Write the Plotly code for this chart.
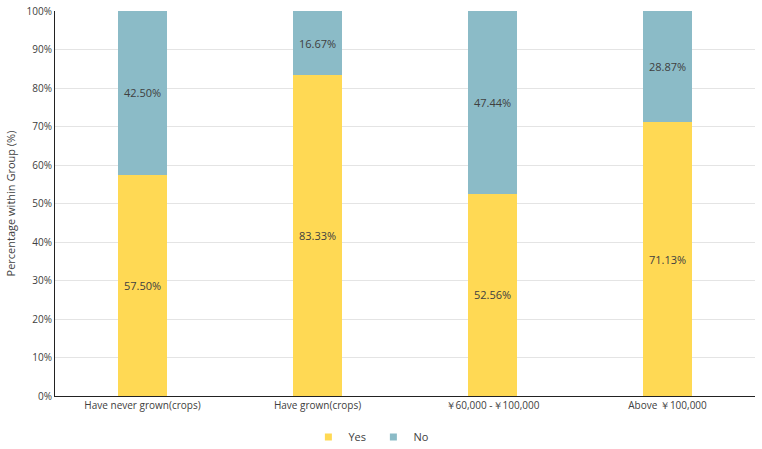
import plotly.graph_objects as go

categories = ["Have never grown(crops)", "Have grown(crops)", "￥60,000 -￥100,000", "Above ￥100,000"]
yes_vals = [57.50, 83.33, 52.56, 71.13]
no_vals = [42.50, 16.67, 47.44, 28.87]
yes_labels = ["57.50%", "83.33%", "52.56%", "71.13%"]
no_labels = ["42.50%", "16.67%", "47.44%", "28.87%"]
y_ticks = [0, 10, 20, 30, 40, 50, 60, 70, 80, 90, 100]
y_tick_text = ["0%", "10%", "20%", "30%", "40%", "50%", "60%", "70%", "80%", "90%", "100%"]

font_family = "Open Sans, Noto Sans, sans-serif"
text_col = "#404040"
yes_col = "#FFD954"
no_col = "#8BBBC7"

fig = go.Figure()
fig.add_trace(go.Bar(
    x=categories, y=yes_vals, name="Yes", marker_color=yes_col,
    text=yes_labels, textposition="inside", insidetextanchor="middle",
    textfont=dict(size=11, color=text_col), width=0.285,
    marker_line_width=0, hoverinfo="skip", showlegend=False))
fig.add_trace(go.Bar(
    x=categories, y=no_vals, name="No", marker_color=no_col,
    text=no_labels, textposition="inside", insidetextanchor="middle",
    textfont=dict(size=11, color=text_col), width=0.285,
    marker_line_width=0, hoverinfo="skip", showlegend=False))
# legend entries (square markers)
for nm, col in [("Yes", yes_col), ("No", no_col)]:
    fig.add_trace(go.Scatter(
        x=[None], y=[None], mode="markers", name=nm,
        marker=dict(symbol="square", size=7, color=col), showlegend=True))

fig.update_layout(
    barmode="stack",
    width=762, height=449,
    margin=dict(l=55, r=7, t=11, b=53, autoexpand=False),
    plot_bgcolor="white", paper_bgcolor="white",
    font=dict(family=font_family, size=10, color=text_col),
    showlegend=True,
    legend=dict(orientation="h", x=0.49, xanchor="center", xref="container",
                y=0.027, yanchor="middle", yref="container",
                font=dict(size=11, color=text_col), traceorder="normal",
                itemwidth=30, entrywidth=20, entrywidthmode="pixels"),
    xaxis=dict(showline=True, linecolor="#222", linewidth=1, ticks="",
               tickfont=dict(size=10, color=text_col), showgrid=False),
    yaxis=dict(range=[0, 100], tickvals=y_ticks, ticktext=y_tick_text,
               showline=True, linecolor="#222", linewidth=1,
               gridcolor="#E4E4E4", gridwidth=1, ticks="",
               tickfont=dict(size=10, color=text_col),
               title=dict(text="Percentage within Group (%)", font=dict(size=11, color=text_col), standoff=8)),
    bargap=0.7,
    uniformtext=dict(minsize=8, mode="show"),
)

fig.write_html("out.html")
